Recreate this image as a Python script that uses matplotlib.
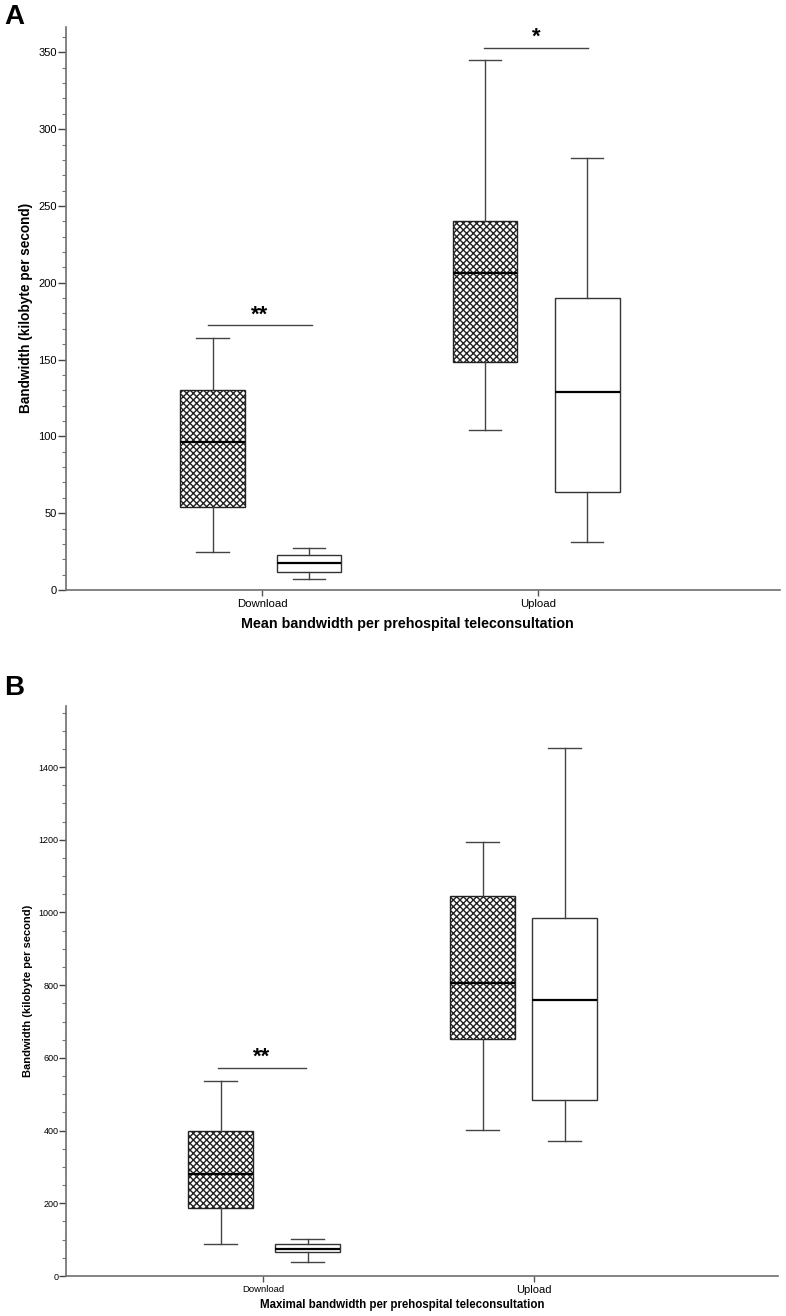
import matplotlib
matplotlib.use("Agg")
import matplotlib.pyplot as plt
from matplotlib.ticker import MultipleLocator

plt.rcParams['font.family'] = ['Liberation Sans', 'DejaVu Sans']
plt.rcParams['hatch.linewidth'] = 1.0

# ---------------- data ----------------
categories = ["Download", "Upload"]

# Panel A: mean bandwidth (kB/s)  [hatched group, open group] per category
a_hatched_whislo = [24.9, 104.0]
a_hatched_q1     = [54.2, 148.2]
a_hatched_med    = [96.2, 206.1]
a_hatched_q3     = [130.0, 239.9]
a_hatched_whishi = [163.8, 345.3]

a_open_whislo = [7.2, 31.4]
a_open_q1     = [11.5, 63.7]
a_open_med    = [17.8, 128.7]
a_open_q3     = [22.8, 190.2]
a_open_whishi = [27.5, 281.3]

# Panel B: maximal bandwidth (kB/s)
b_hatched_whislo = [88, 402]
b_hatched_q1     = [188, 652]
b_hatched_med    = [280, 806]
b_hatched_q3     = [399, 1045]
b_hatched_whishi = [536, 1193]

b_open_whislo = [38.5, 371]
b_open_q1     = [65, 484]
b_open_med    = [75, 759]
b_open_q3     = [89, 984]
b_open_whishi = [101, 1452]

# significance annotations: (category index, text, bar height)
a_sig = [(0, "**", 172.3), (1, "*", 353.0)]
b_sig = [(0, "**", 572.0)]


def stats(lo, q1, med, q3, hi):
    return [dict(whislo=lo[i], q1=q1[i], med=med[i], q3=q3[i], whishi=hi[i], fliers=[])
            for i in range(len(lo))]


fig = plt.figure(figsize=(7.86, 13.16), dpi=100)
W, H = 786, 1316


def axes_px(l, t, r, b):
    return fig.add_axes([l / W, 1 - b / H, (r - l) / W, (b - t) / H])


def style_axes(ax, ymax, major, minor, ticksize, tlen):
    for s in ("top", "right"):
        ax.spines[s].set_visible(False)
    for s in ("left", "bottom"):
        ax.spines[s].set_color("#6e6e6e")
        ax.spines[s].set_linewidth(1.2)
    ax.set_ylim(0, ymax)
    ax.yaxis.set_major_locator(MultipleLocator(major))
    ax.yaxis.set_minor_locator(MultipleLocator(minor))
    ax.tick_params(axis="y", which="major", length=tlen, width=1.0, color="#444444",
                   labelsize=ticksize, pad=0.5)
    ax.tick_params(axis="y", which="minor", length=3.0, width=0.8, color="#777777")
    ax.tick_params(axis="x", which="major", length=4.5, width=1.0, color="#555555", pad=2)


def draw_boxes(ax, hst, ost, hpos, opos, width, sig, sigx):
    common = dict(widths=width, showfliers=False, patch_artist=True, manage_ticks=False,
                  medianprops=dict(color="black", lw=1.6),
                  whiskerprops=dict(color="#444444", lw=1.0),
                  capprops=dict(color="#444444", lw=1.0))
    bh = ax.bxp(hst, positions=hpos,
                boxprops=dict(facecolor="white", edgecolor="#222222", lw=1.0, hatch="xxxxx"),
                **common)
    bo = ax.bxp(ost, positions=opos,
                boxprops=dict(facecolor="white", edgecolor="#333333", lw=1.0),
                **common)
    for (ci, txt, yv) in sig:
        x0, x1 = sigx[ci]
        ax.plot([x0, x1], [yv, yv], color="#444444", lw=1.0, clip_on=False)
        ax.text((x0 + x1) / 2, yv, txt, ha="center", va="bottom", fontsize=16,
                fontweight="bold", color="black")
    return bh, bo


# ---------------- Panel A ----------------
axA = axes_px(66, 27, 780, 590)
style_axes(axA, 366.5, 50, 10, 8, 6)
ppu = 276.0
axA.set_xlim((66 - 262) / ppu, (780 - 262) / ppu)
a_hpos = [(212.5 - 262) / ppu, 1 + (485 - 538) / ppu]
a_opos = [(309 - 262) / ppu, 1 + (587.2 - 538) / ppu]
a_w = 64.7 / ppu
a_sigx = [((207.7 - 262) / ppu, (311.7 - 262) / ppu),
          (1 + (484 - 538) / ppu, 1 + (587.7 - 538) / ppu)]
draw_boxes(axA,
           stats(a_hatched_whislo, a_hatched_q1, a_hatched_med, a_hatched_q3, a_hatched_whishi),
           stats(a_open_whislo, a_open_q1, a_open_med, a_open_q3, a_open_whishi),
           a_hpos, a_opos, a_w, a_sig, a_sigx)
axA.set_xticks([0, 1])
axA.set_xticklabels(categories, fontsize=8.2)
fig.text(26 / W, 1 - 308 / H, "Bandwidth (kilobyte per second)", rotation=90,
         ha="center", va="center", fontsize=9.8, fontweight="bold")
fig.text(407 / W, 1 - 624 / H, "Mean bandwidth per prehospital teleconsultation",
         ha="center", va="center", fontsize=10.3, fontweight="bold")
fig.text(4 / W, 1 - 4 / H, "A", ha="left", va="top", fontsize=20, fontweight="bold")

# ---------------- Panel B ----------------
axB = axes_px(66, 706, 778, 1276)
style_axes(axB, 1568, 200, 50, 6.5, 4.7)
ppu = 271.0
axB.set_xlim((66 - 263.3) / ppu, (778 - 263.3) / ppu)
b_hpos = [(220.5 - 263.3) / ppu, 1 + (482.5 - 534.3) / ppu]
b_opos = [(307.5 - 263.3) / ppu, 1 + (564.5 - 534.3) / ppu]
b_w = 64.4 / ppu
b_sigx = [((218 - 263.3) / ppu, (306 - 263.3) / ppu)]
draw_boxes(axB,
           stats(b_hatched_whislo, b_hatched_q1, b_hatched_med, b_hatched_q3, b_hatched_whishi),
           stats(b_open_whislo, b_open_q1, b_open_med, b_open_q3, b_open_whishi),
           b_hpos, b_opos, b_w, b_sig, b_sigx)
axB.set_xticks([0, 1])
axB.set_xticklabels(categories)
xt = axB.get_xticklabels()
xt[0].set_fontsize(6.8)
xt[1].set_fontsize(8.0)
fig.text(28 / W, 1 - 991 / H, "Bandwidth (kilobyte per second)", rotation=90,
         ha="center", va="center", fontsize=8, fontweight="bold")
fig.text(402 / W, 1 - 1305 / H, "Maximal bandwidth per prehospital teleconsultation",
         ha="center", va="center", fontsize=8.3, fontweight="bold")
fig.text(4 / W, 1 - 675 / H, "B", ha="left", va="top", fontsize=20, fontweight="bold")

fig.savefig("out.png", dpi=100, facecolor="white")
